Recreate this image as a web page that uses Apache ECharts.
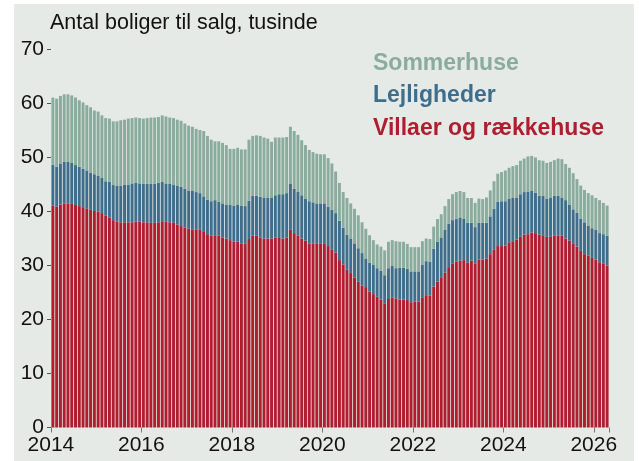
<!DOCTYPE html>
<html>
<head>
<meta charset="utf-8">
<script src="https://cdn.jsdelivr.net/npm/echarts@6/dist/echarts.min.js"></script>
<style>
  html, body { margin: 0; padding: 0; background: #ffffff; }
  #chart { width: 639px; height: 461px; }
</style>
</head>
<body>
<div id="chart"></div>
<script>
// monthly, jan 2014 - apr 2026 (148 months)
const months = []
for (let y = 2014; y <= 2026; y++) {
  for (let m = 1; m <= 12; m++) {
    if (y === 2026 && m > 4) break
    months.push(y + '-' + String(m).padStart(2, '0'))
  }
}

// tusinde boliger til salg
const villaer = [
  41.1, 40.9, 41.3, 41.5, 41.5, 41.4, 41.2, 41.0, 40.8, 40.5, 40.4, 40.1,
  40.0, 39.7, 39.2, 38.9, 38.4, 38.1, 38.0, 38.0, 38.0, 38.0, 38.1, 38.1,
  38.0, 38.0, 37.9, 37.9, 38.0, 38.2, 38.1, 38.0, 37.9, 37.6, 37.3, 37.0,
  36.8, 36.7, 36.7, 36.6, 36.2, 35.8, 35.5, 35.6, 35.5, 35.2, 35.0, 34.7,
  34.4, 34.4, 34.1, 34.1, 34.9, 35.5, 35.5, 35.2, 35.0, 35.0, 35.0, 35.2,
  35.1, 35.0, 35.2, 36.6, 36.0, 35.5, 35.0, 34.6, 34.1, 34.1, 34.0, 34.0,
  34.0, 33.6, 33.0, 32.4, 31.0, 30.2, 29.2, 28.6, 27.8, 27.0, 26.3, 26.0,
  25.2, 24.7, 24.2, 23.7, 23.0, 23.8, 24.1, 23.9, 23.7, 23.7, 23.6, 23.2,
  23.3, 23.3, 24.0, 24.5, 24.4, 26.1, 27.0, 27.7, 28.7, 29.7, 30.3, 30.7,
  30.9, 31.0, 30.5, 30.9, 30.4, 31.1, 31.1, 31.3, 32.1, 32.9, 33.6, 33.6,
  33.7, 34.3, 34.5, 34.8, 35.3, 35.7, 35.8, 36.1, 36.0, 35.7, 35.6, 35.3,
  35.3, 35.5, 35.5, 35.5, 35.0, 34.6, 34.0, 33.5, 32.7, 32.1, 31.8, 31.4,
  31.1, 30.6, 30.3, 30.0
]
const lejligheder = [
  7.5, 7.4, 7.5, 7.7, 7.7, 7.6, 7.4, 7.3, 7.1, 7.1, 6.8, 6.8,
  6.6, 6.5, 6.4, 6.6, 6.5, 6.7, 6.8, 7.0, 7.0, 7.2, 7.2, 7.1,
  7.1, 7.1, 7.2, 7.2, 7.3, 7.3, 7.1, 7.1, 7.0, 7.2, 7.3, 7.2,
  7.1, 7.1, 6.9, 6.8, 6.6, 6.4, 6.4, 6.5, 6.3, 6.3, 6.3, 6.5,
  6.7, 6.8, 7.0, 6.9, 7.1, 7.4, 7.4, 7.5, 7.6, 7.6, 7.5, 7.8,
  8.1, 8.2, 8.2, 8.6, 8.2, 8.2, 8.0, 7.8, 7.8, 7.6, 7.5, 7.5,
  7.5, 7.3, 7.3, 7.3, 7.3, 6.8, 6.5, 6.4, 6.3, 6.2, 6.0, 5.3,
  5.3, 5.4, 5.3, 5.3, 5.2, 5.7, 5.8, 5.6, 5.9, 5.9, 5.8, 5.7,
  5.6, 5.6, 6.1, 6.3, 6.3, 7.0, 7.4, 7.5, 7.9, 8.0, 8.1, 7.9,
  7.9, 7.7, 7.4, 7.0, 6.7, 6.8, 6.8, 6.6, 7.0, 7.6, 8.2, 8.3,
  8.2, 8.1, 8.0, 7.8, 7.9, 7.9, 7.9, 7.7, 7.5, 7.2, 7.3, 7.1,
  7.3, 7.4, 7.4, 7.1, 7.1, 6.7, 6.4, 6.3, 6.0, 5.9, 5.6, 5.5,
  5.5, 5.4, 5.5, 5.5
]
const sommerhuse = [
  12.5, 12.6, 12.6, 12.5, 12.5, 12.5, 12.5, 12.3, 12.3, 12.1, 12.1, 11.8,
  11.9, 11.6, 11.7, 11.7, 11.8, 11.9, 12.1, 12.0, 12.2, 12.1, 12.1, 12.1,
  12.1, 12.2, 12.3, 12.3, 12.2, 12.3, 12.4, 12.3, 12.4, 12.2, 12.2, 12.1,
  12.0, 11.9, 11.7, 11.7, 12.1, 11.8, 11.4, 10.9, 11.2, 11.2, 11.0, 10.4,
  10.5, 10.6, 10.4, 10.5, 11.3, 11.1, 11.2, 11.3, 11.1, 10.9, 10.4, 10.7,
  10.5, 10.5, 10.4, 10.5, 10.7, 10.5, 10.2, 9.9, 9.5, 9.3, 9.2, 9.1,
  9.1, 9.0, 8.6, 7.7, 7.0, 6.6, 6.8, 6.5, 6.4, 6.1, 5.7, 5.5,
  5.1, 4.6, 4.4, 4.5, 4.6, 4.9, 4.8, 5.0, 4.8, 4.8, 4.6, 4.5,
  4.5, 4.5, 4.4, 4.2, 4.2, 4.1, 4.2, 4.3, 4.4, 4.6, 4.8, 5.0,
  5.0, 4.9, 4.6, 4.6, 4.5, 4.5, 4.4, 4.7, 4.8, 5.1, 5.2, 5.4,
  5.7, 5.7, 5.9, 6.0, 6.2, 6.2, 6.5, 6.5, 6.5, 6.6, 6.5, 6.6,
  6.6, 6.6, 6.9, 7.1, 6.7, 6.8, 6.7, 6.2, 6.1, 6.0, 6.0, 6.1,
  5.9, 6.1, 5.8, 5.6
]

const colors = {
  villaer: '#b01d2f',
  lejligheder: '#3f6e8c',
  sommerhuse: '#8aac9c'
}
const font = '"Liberation Sans", Arial, sans-serif'

const chart = echarts.init(document.getElementById('chart'), null, { renderer: 'canvas' })

// vis kun jan. i lige år
const everyTwoYears = (idx) => idx % 24 === 0

chart.setOption({
  animation: false,
  backgroundColor: '#ffffff',
  grid: { left: 51, right: 30, top: 49.5, bottom: 33.5 },
  graphic: [
    {
      type: 'rect',
      z: -10,
      silent: true,
      shape: { x: 14, y: 4, width: 620, height: 457 },
      style: { fill: '#e6eae7' }
    },
    {
      type: 'text', left: 50, top: 12,
      style: { text: 'Antal boliger til salg, tusinde', font: '21.5px ' + font, fill: '#111' }
    },
    {
      type: 'text', left: 373, top: 52,
      style: { text: 'Sommerhuse', font: 'bold 23px ' + font, fill: colors.sommerhuse }
    },
    {
      type: 'text', left: 373, top: 84,
      style: { text: 'Lejligheder', font: 'bold 23px ' + font, fill: colors.lejligheder }
    },
    {
      type: 'text', left: 373, top: 117,
      style: { text: 'Villaer og rækkehuse', font: 'bold 23px ' + font, fill: colors.villaer }
    }
  ],
  xAxis: {
    type: 'category',
    data: months,
    boundaryGap: true,
    axisLine: { show: false },
    axisTick: { show: true, interval: everyTwoYears, length: 5, lineStyle: { color: '#777' } },
    axisLabel: {
      interval: everyTwoYears,
      formatter: (v) => v.slice(0, 4),
      color: '#111',
      fontFamily: font,
      fontSize: 21,
      margin: 7,
      padding: [0, 4, 0, 0]
    }
  },
  yAxis: {
    type: 'value',
    min: 0,
    max: 70,
    interval: 10,
    splitLine: { show: false },
    axisLine: { show: false },
    axisTick: { show: true, length: 4, lineStyle: { color: '#555' } },
    axisLabel: { color: '#111', fontFamily: font, fontSize: 21, margin: 7 }
  },
  series: [
    {
      name: 'Villaer og rækkehuse',
      type: 'bar',
      stack: 'boliger',
      barCategoryGap: '22%',
      itemStyle: { color: colors.villaer },
      data: villaer
    },
    {
      name: 'Lejligheder',
      type: 'bar',
      stack: 'boliger',
      barCategoryGap: '22%',
      itemStyle: { color: colors.lejligheder },
      data: lejligheder
    },
    {
      name: 'Sommerhuse',
      type: 'bar',
      stack: 'boliger',
      barCategoryGap: '22%',
      itemStyle: { color: colors.sommerhuse },
      data: sommerhuse
    }
  ]
})
</script>
</body>
</html>
